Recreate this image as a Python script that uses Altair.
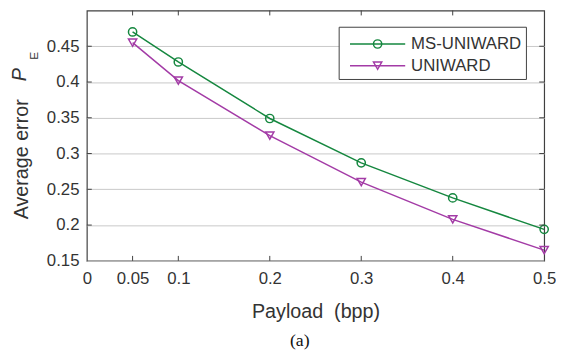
import altair as alt
import pandas as pd

# ---- data ----
payload = [0.05, 0.1, 0.2, 0.3, 0.4, 0.5]
ms_uniward = [0.470, 0.428, 0.349, 0.287, 0.238, 0.194]
uniward = [0.455, 0.402, 0.325, 0.260, 0.208, 0.165]
series_names = ["MS-UNIWARD", "UNIWARD"]
series_colors = ["#15873F", "#A33BA6"]
series_shapes = ["circle", "triangle-down"]
x_ticks = [0, 0.05, 0.1, 0.2, 0.3, 0.4, 0.5]
y_ticks = [0.15, 0.2, 0.25, 0.3, 0.35, 0.4, 0.45]

W, H = 464, 254
FONT = "Liberation Sans"
TXT = "#333333"
FRAME = "#404040"

rows = []
for name, vals in zip(series_names, [ms_uniward, uniward]):
    for p, v in zip(payload, vals):
        rows.append({"payload": p, "pe": v, "series": name})
df = pd.DataFrame(rows)

xscale = alt.Scale(domain=[0, 0.5], nice=False, zero=False)
yscale = alt.Scale(domain=[0.15, 0.5], nice=False, zero=False)
cscale = alt.Scale(domain=series_names, range=series_colors)
sscale = alt.Scale(domain=series_names, range=series_shapes)

x_axis = alt.Axis(values=x_ticks, format="~g", title="Payload\u00a0\u00a0(bpp)", grid=False,
                  ticks=False, domain=False, labelFontSize=17, labelFont=FONT,
                  labelColor=TXT, labelPadding=10, titleFontSize=20, titleFont=FONT,
                  titleColor=TXT, titleFontWeight="normal", titlePadding=16,
                  labelFlush=False, labelOverlap=False)
y_axis = alt.Axis(values=y_ticks, format="~g", title=None, grid=True, gridColor="#c8c8c8",
                  gridWidth=1, ticks=False, domain=False, labelFontSize=17, labelFont=FONT,
                  labelColor=TXT, labelPadding=8, labelFlush=False, labelOverlap=False)

X = lambda f: alt.X(f, scale=xscale, axis=x_axis)
Y = lambda f: alt.Y(f, scale=yscale, axis=y_axis)

lines = alt.Chart(df).mark_line(strokeWidth=1.5).encode(
    x=X("payload:Q"), y=Y("pe:Q"),
    color=alt.Color("series:N", scale=cscale, legend=None),
    detail="series:N",
)
points = alt.Chart(df).mark_point(filled=False, strokeWidth=1.5, size=70, opacity=1).encode(
    x=X("payload:Q"), y=Y("pe:Q"),
    color=alt.Color("series:N", scale=cscale, legend=None),
    shape=alt.Shape("series:N", scale=sscale, legend=None),
)

# inward ticks on all four sides
xt = pd.DataFrame({"payload": x_ticks[1:-1]})
yt = pd.DataFrame({"pe": y_ticks[1:]})
tick_bottom = alt.Chart(xt).mark_rule(color=FRAME, strokeWidth=1).encode(
    x=X("payload:Q"), y=alt.value(H), y2=alt.value(H - 5))
tick_top = alt.Chart(xt).mark_rule(color=FRAME, strokeWidth=1).encode(
    x=X("payload:Q"), y=alt.value(0), y2=alt.value(5))
tick_left = alt.Chart(yt).mark_rule(color=FRAME, strokeWidth=1).encode(
    y=Y("pe:Q"), x=alt.value(0), x2=alt.value(5))
tick_right = alt.Chart(yt).mark_rule(color=FRAME, strokeWidth=1).encode(
    y=Y("pe:Q"), x=alt.value(W), x2=alt.value(W - 5))

one = pd.DataFrame({"k": [0]})

# legend box
leg_box = alt.Chart(one).mark_rect(fill="white", stroke=FRAME, strokeWidth=1).encode(
    x=alt.value(256), x2=alt.value(446), y=alt.value(17), y2=alt.value(70))
legend_layers = [leg_box]
for i, (name, col, shp) in enumerate(zip(series_names, series_colors, series_shapes)):
    ry = 34 + 22 * i
    legend_layers.append(alt.Chart(one).mark_rule(color=col, strokeWidth=1.5).encode(
        x=alt.value(267), x2=alt.value(323), y=alt.value(ry)))
    legend_layers.append(alt.Chart(one).mark_point(
        filled=False, strokeWidth=1.5, size=70, color=col, shape=shp, opacity=1).encode(
        x=alt.value(295), y=alt.value(ry)))
    legend_layers.append(alt.Chart(one).mark_text(
        align="left", baseline="middle", font=FONT, fontSize=17, color=TXT).encode(
        x=alt.value(329), y=alt.value(ry), text=alt.value(name)))

# y-axis title: "Average error  P_E"
yt1 = alt.Chart(one).mark_text(angle=270, align="center", baseline="alphabetic",
                               font=FONT, fontSize=20, color=TXT).encode(
    x=alt.value(-60), y=alt.value(151), text=alt.value("Average error"))
yt2 = alt.Chart(one).mark_text(angle=270, align="center", baseline="alphabetic",
                               font=FONT, fontSize=20, fontStyle="italic", color=TXT).encode(
    x=alt.value(-62), y=alt.value(65), text=alt.value("P"))
yt3 = alt.Chart(one).mark_text(angle=270, align="center", baseline="alphabetic",
                               font=FONT, fontSize=12, color=TXT).encode(
    x=alt.value(-50), y=alt.value(46), text=alt.value("E"))
caption = alt.Chart(one).mark_text(align="center", baseline="middle",
                                   font="Liberation Serif", fontSize=18, color="#111111").encode(
    x=alt.value(216), y=alt.value(335), text=alt.value("(a)"))

chart = alt.layer(
    lines, points, tick_bottom, tick_top, tick_left, tick_right,
    *legend_layers, yt1, yt2, yt3, caption,
).properties(
    width=W, height=H,
    autosize=alt.AutoSizeParams(type="none"),
    padding={"left": 80, "top": 0, "right": 12, "bottom": 92},
).configure_view(
    stroke=FRAME, strokeWidth=1.2
)

chart.save("out.html", embed_options={"renderer": "svg", "actions": False})
